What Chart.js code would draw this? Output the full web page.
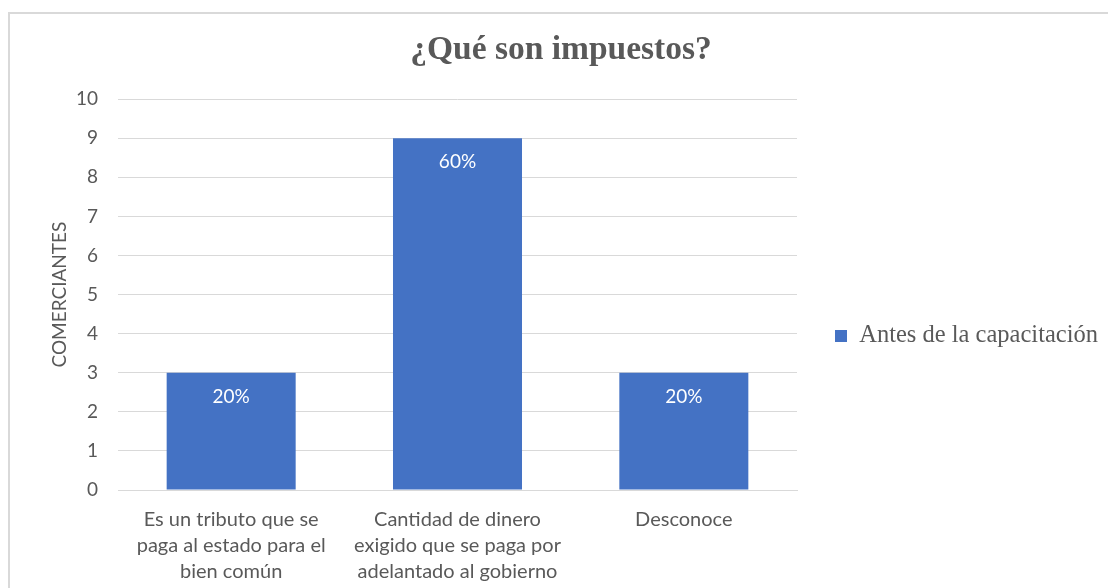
<!DOCTYPE html>
<html>
<head>
<meta charset="utf-8">
<script src="https://cdn.jsdelivr.net/npm/chart.js@4/dist/chart.umd.min.js"></script>
<style>
  html, body { margin: 0; padding: 0; background: #fff; overflow: hidden; }
  #frame { position: absolute; left: 8px; top: 12px; width: 1120px; height: 600px; border: 2px solid #d9d9d9; }
  #wrap { position: absolute; left: 0; top: 0; width: 1108px; height: 588px; }
</style>
</head>
<body>
<div id="frame"></div>
<div id="wrap"><canvas id="chart"></canvas></div>
<script>
const categories = [
  ["Es un tributo que se", "paga al estado para el", "bien común"],
  ["Cantidad de dinero", "exigido que se paga por", "adelantado al gobierno"],
  ["Desconoce"]
];
const values = [3, 9, 3];
const percentLabels = ["20%", "60%", "20%"];
const seriesName = "Antes de la capacitación";
const yTicks = [0, 10, 1]; // min, max, step

const TEXT = "#595959";
const GRID = "#d9d9d9";
const SANS = "Lato, 'Open Sans', sans-serif";
const SERIF = "'Liberation Serif', 'Times New Roman', serif";

// white percentage text inside the top of each bar
const barLabels = {
  id: "barLabels",
  afterDatasetsDraw(chart) {
    const ctx = chart.ctx;
    const meta = chart.getDatasetMeta(0);
    ctx.save();
    ctx.fillStyle = "#ffffff";
    ctx.font = "19px " + SANS;
    ctx.textAlign = "center";
    ctx.textBaseline = "middle";
    meta.data.forEach((bar, i) => {
      ctx.fillText(percentLabels[i], bar.x, bar.y + 24);
    });
    ctx.restore();
  }
};

new Chart(document.getElementById("chart"), {
  type: "bar",
  data: {
    labels: categories,
    datasets: [{
      label: seriesName,
      data: values,
      backgroundColor: "#4472C4",
      borderWidth: 0,
      categoryPercentage: 1,
      barPercentage: 0.57
    }]
  },
  options: {
    responsive: true,
    maintainAspectRatio: false,
    animation: false,
    layout: { padding: { left: 15, right: 1, top: 0, bottom: 0 } },
    plugins: {
      tooltip: { enabled: false },
      title: {
        display: true,
        text: "¿Qué son impuestos?",
        color: TEXT,
        font: { family: SERIF, size: 33.5, weight: "bold" },
        padding: { top: 30, bottom: 29 }
      },
      legend: {
        position: "right",
        maxWidth: 310,
        // empty title only pushes the single item down
        title: { display: true, text: " ", font: { size: 20 }, padding: { top: 0, bottom: 60 } },
        labels: {
          color: TEXT,
          font: { family: SERIF, size: 24.5 },
          boxWidth: 12,
          boxHeight: 12,
          padding: 38
        }
      }
    },
    scales: {
      x: {
        grid: { display: false, drawTicks: false },
        border: { color: GRID, width: 1 },
        ticks: {
          color: TEXT,
          font: { family: SANS, size: 20, lineHeight: 1.3 },
          padding: 17,
          maxRotation: 0,
          autoSkip: false
        },
        afterFit(scale) { scale.height = 98; }
      },
      y: {
        min: yTicks[0],
        max: yTicks[1],
        ticks: {
          stepSize: yTicks[2],
          color: TEXT,
          font: { family: SANS, size: 19 },
          padding: 20
        },
        grid: { color: GRID, lineWidth: 1, drawTicks: false },
        border: { display: false },
        title: {
          display: true,
          text: "COMERCIANTES",
          color: TEXT,
          font: { family: SANS, size: 19 },
          padding: { top: 33.6, bottom: 0 }
        },
        afterFit(scale) { scale.width = 103; }
      }
    }
  },
  plugins: [barLabels]
});
</script>
</body>
</html>
